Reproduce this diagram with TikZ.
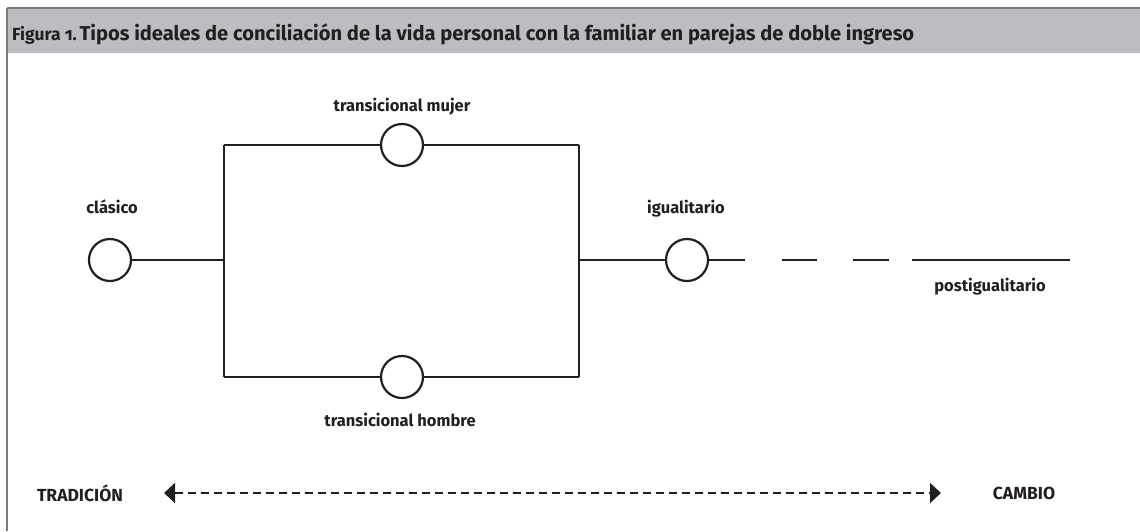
\documentclass[tikz,border=0pt]{standalone}
\usepackage{fontspec}
\setmainfont{Fira Sans}
\usetikzlibrary{arrows.meta}
\definecolor{ink}{HTML}{231F20}
\definecolor{band}{HTML}{BCBDC0}
\definecolor{rulegray}{HTML}{7A7A7A}
\tikzset{
  dot/.style={circle, draw=ink, line width=2.2pt, minimum size=42pt, inner sep=0pt, fill=white},
  wire/.style={draw=ink, line width=2.2pt},
  lbl/.style={text=ink, font=\fontsize{16.5}{19}\selectfont\bfseries, inner sep=0pt},
  caps/.style={text=ink, font=\fontsize{17.5}{20}\selectfont\bfseries, inner sep=0pt},
  axis/.style={draw=ink, line width=2pt, dash pattern=on 8pt off 5pt, {Triangle[length=11pt,width=20pt]}-{Triangle[length=11pt,width=20pt]}},
}
\begin{document}
\begin{tikzpicture}[x=1pt,y=-1pt]
\useasboundingbox (0,0) rectangle (1140,531);
\fill[white] (0,0) rectangle (1140,531);
\fill[band] (7,8) rectangle (1140,53);
\draw[rulegray, line width=2pt] (7,8) -- (1140,8);
\draw[rulegray, line width=1.2pt] (7,8) -- (7,531);
\node[anchor=base west, text=ink, inner sep=0pt] (title) at (12,40)
  {{\fontsize{17.5}{20}\selectfont\addfontfeatures{Numbers=OldStyle}\bfseries Figura 1.}\ {\fontsize{20.1}{23}\selectfont\bfseries Tipos ideales de conciliación de la vida personal con la familiar en parejas de doble ingreso}};

% coordinates of the frame of the two routes
\coordinate (lt) at (224,145);
\coordinate (lb) at (224,377);
\coordinate (lm) at (224,260);
\coordinate (rt) at (579,145);
\coordinate (rb) at (579,377);
\coordinate (rm) at (579,260);

\draw[wire] (lt) -- (lb);
\draw[wire] (rt) -- (rb);

\node[dot] (cl) at (110,260) {};
\node[dot] (tm) at (402,145) {};
\node[dot] (bm) at (402,377) {};
\node[dot] (ig) at (687,260) {};

\draw[wire] (cl) -- (lm);
\draw[wire] (lt) -- (tm) -- (rt);
\draw[wire] (lb) -- (bm) -- (rb);
\draw[wire] (rm) -- (ig);

\coordinate (d0) at (745,260);
\coordinate (d1a) at (782,260);
\coordinate (d1b) at (817,260);
\coordinate (d2a) at (853,260);
\coordinate (d2b) at (889,260);
\coordinate (d3a) at (912,260);
\coordinate (d3b) at (1070,260);
\draw[wire] (ig) -- (d0);
\draw[wire] (d1a) -- (d1b);
\draw[wire] (d2a) -- (d2b);
\draw[wire] (d3a) -- (d3b);

\node[lbl] (lcl) at (112,207) {clásico};
\node[lbl] (ltm) at (402,107) {transicional mujer};
\node[lbl] (lbm) at (400,420) {transicional hombre};
\node[lbl] (lig) at (686,209) {igualitario};
\node[lbl] (lpo) at (990,287) {postigualitario};

\node[caps] (trad) at (80,493) {TRADICIÓN};
\node[caps] (camb) at (1024,493) {CAMBIO};
\coordinate (al) at (164,493);
\coordinate (ar) at (941,493);
\draw[axis] (al) -- (ar);
\end{tikzpicture}
\end{document}
